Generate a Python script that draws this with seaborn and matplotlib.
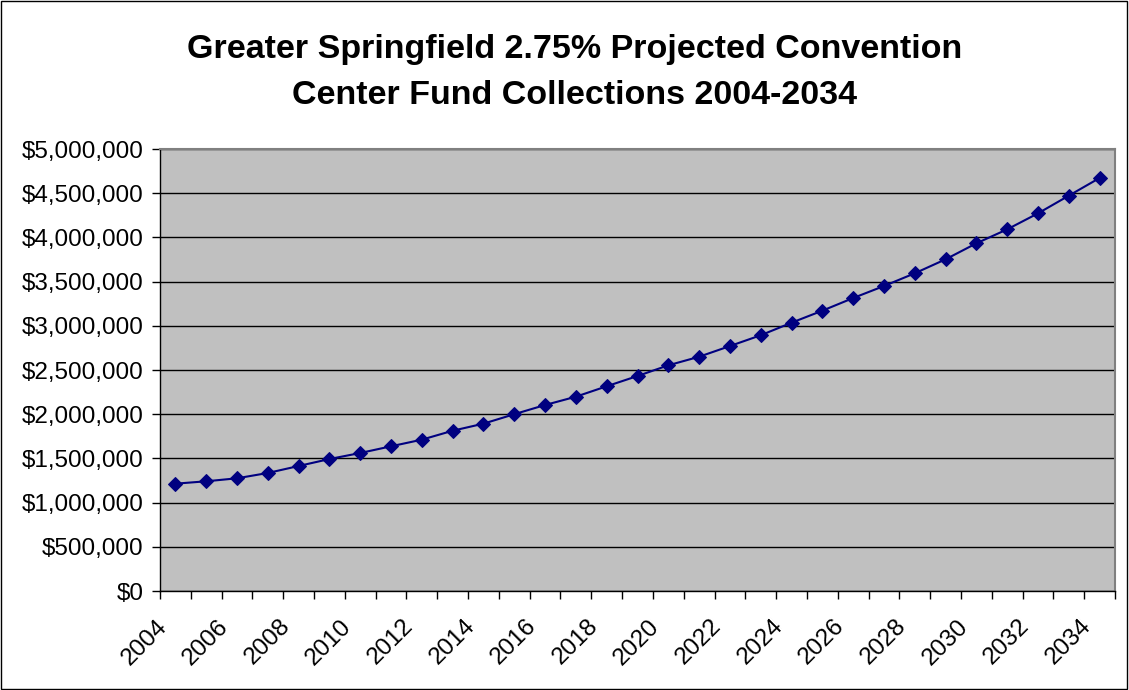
import numpy as np
import pandas as pd
import matplotlib
matplotlib.use('Agg')
import matplotlib.pyplot as plt
import seaborn as sns
from matplotlib.ticker import FuncFormatter, MultipleLocator
from matplotlib.patches import Rectangle
from matplotlib.transforms import ScaledTranslation

# Data
years = list(range(2004, 2035))
collections = [1214000, 1241000, 1275000, 1335000, 1414000, 1493000, 1561000,
               1637000, 1712000, 1813000, 1893000, 2000000, 2104000, 2198000,
               2316000, 2432000, 2553000, 2650000, 2771000, 2893000, 3035000,
               3171000, 3314000, 3450000, 3594000, 3752000, 3933000, 4091000,
               4272000, 4472000, 4672000]
label_years = list(range(2004, 2035, 2))
title = 'Greater Springfield 2.75% Projected Convention\nCenter Fund Collections 2004-2034'

df = pd.DataFrame({'Year': years, 'Collections': collections})

sns.set_style('white')
plt.rcParams['font.family'] = ['Liberation Sans', 'DejaVu Sans']
plt.rcParams['text.color'] = 'black'
plt.rcParams['xtick.color'] = 'black'
plt.rcParams['ytick.color'] = 'black'

fig = plt.figure(figsize=(11.29, 6.9), dpi=100)
ax = fig.add_axes([160/1129, 1 - 591/690, 955/1129, 442/690])
ax.set_facecolor('#C0C0C0')

sns.lineplot(data=df, x='Year', y='Collections', ax=ax, color='#000080',
             marker='D', markersize=7, markeredgecolor='#000080', linewidth=1.5)

ax.set_xlim(2003.5, 2034.5)
ax.set_ylim(0, 5000000)
ax.yaxis.set_major_locator(MultipleLocator(500000))
ax.yaxis.set_major_formatter(FuncFormatter(lambda v, p: '${:,.0f}'.format(v)))
ax.grid(axis='y', color='black', linewidth=1)
ax.set_axisbelow(True)

ax.set_xticks(label_years)
ax.set_xticklabels([str(y) for y in label_years], rotation=45, ha='right',
                   va='center', rotation_mode='anchor')
ax.set_xticks(np.arange(2003.5, 2035, 1), minor=True)
ax.tick_params(axis='x', which='major', length=0, pad=23, labelsize=17.5)
ax.tick_params(axis='x', which='minor', length=6, width=1, color='black', direction='out')
ax.tick_params(axis='y', length=6, width=1, color='black', direction='out', labelsize=17.5, pad=6)
ax.xaxis.set_ticks_position('bottom')
ax.yaxis.set_ticks_position('left')
ax.set_xlabel('')
ax.set_ylabel('')

shift = ScaledTranslation(-12/100, 0, fig.dpi_scale_trans)
for lab in ax.get_xticklabels():
    lab.set_transform(lab.get_transform() + shift)

for s in ['left', 'bottom']:
    ax.spines[s].set_color('black')
    ax.spines[s].set_linewidth(1)
for s in ['top', 'right']:
    ax.spines[s].set_color('#808080')
    ax.spines[s].set_linewidth(1.5)

fig.text(0.509, 1 - 72.5/690, title, ha='center', va='center', color='black',
         fontsize=24.5, fontweight='bold', linespacing=1.6)

fig.patches.append(Rectangle((0.0005, 0.001), 0.998, 0.997, transform=fig.transFigure,
                             fill=False, edgecolor='black', linewidth=1))

fig.savefig('out.png', dpi=100)
